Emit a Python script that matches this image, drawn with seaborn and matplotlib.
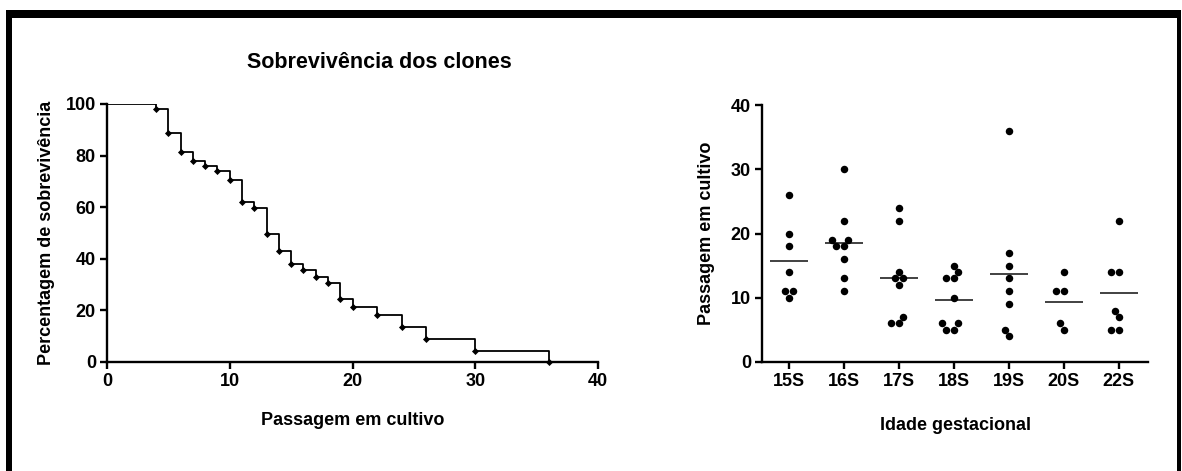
import matplotlib
matplotlib.use("Agg")
import matplotlib.pyplot as plt
import seaborn as sns
import pandas as pd

# survival curve
tempo = [0, 4, 5, 6, 7, 8, 9, 10, 11, 12, 13, 14, 15, 16, 17, 18, 19, 20, 22, 24, 26, 30, 36]
sobrev = [100, 98.1, 88.9, 81.5, 77.8, 75.9, 74.1, 70.4, 62.0, 59.8, 49.5, 42.9,
          38.0, 35.5, 33.0, 30.5, 24.4, 21.2, 18.1, 13.6, 8.9, 4.3, 0]

# passages per gestational age
idades = ["15S", "16S", "17S", "18S", "19S", "20S", "22S"]
p15 = [26, 20, 18, 14, 11, 11, 10]
p16 = [30, 22, 19, 19, 18, 18, 16, 13, 11]
p17 = [24, 22, 14, 13, 13, 12, 7, 6, 6]
p18 = [15, 14, 13, 13, 10, 6, 6, 5, 5]
p19 = [36, 17, 15, 13, 11, 9, 5, 4]
p20 = [14, 11, 11, 6, 5]
p22 = [22, 14, 14, 8, 7, 5, 5]

grupos = [p15, p16, p17, p18, p19, p20, p22]
df = pd.DataFrame({
    "idade": [i for i, g in zip(idades, grupos) for _ in g],
    "passagem": [v for g in grupos for v in g],
})

sns.set_style("ticks")
plt.rcParams["font.family"] = ["Liberation Sans", "DejaVu Sans"]
plt.rcParams["font.weight"] = "bold"
plt.rcParams["axes.labelweight"] = "bold"
plt.rcParams["text.color"] = "black"
plt.rcParams["axes.labelcolor"] = "black"
plt.rcParams["xtick.color"] = "black"
plt.rcParams["ytick.color"] = "black"

fig = plt.figure(figsize=(11.82, 4.71), dpi=100)
W, H = 1182, 471
ax1 = fig.add_axes([107 / W, 1 - 362 / H, (598 - 107) / W, (362 - 104) / H])
ax2 = fig.add_axes([762 / W, 1 - 362 / H, (1148 - 762) / W, (362 - 105) / H])

# left: Kaplan-Meier style
ax1.step(tempo, sobrev, where="post", color="black", lw=1.3)
sns.scatterplot(x=tempo[1:], y=sobrev[1:], ax=ax1, marker="D", s=13,
                color="black", edgecolor="black", linewidth=0, zorder=3, clip_on=False)
ax1.set_xlim(0, 40)
ax1.set_ylim(0, 100)
ax1.set_xticks([0, 10, 20, 30, 40])
ax1.set_yticks([0, 20, 40, 60, 80, 100])
ax1.set_xlabel("Passagem em cultivo", fontsize=13, labelpad=16)
ax1.set_ylabel("Percentagem de sobrevivência", fontsize=13, labelpad=8)
fig.text(379 / W, 1 - 62 / H, "Sobrevivência dos clones", ha="center", va="center",
         fontsize=15.5, fontweight="bold")

# right: column scatter with mean
sns.swarmplot(data=df, x="idade", y="passagem", ax=ax2, color="black", size=5.4,
              order=idades)
sns.pointplot(data=df, x="idade", y="passagem", ax=ax2, order=idades,
              estimator="mean", errorbar=None, linestyle="none", marker="_",
              markersize=27, markeredgewidth=1.3, color="#333333")
ax2.set_xlim(-0.49, 6.53)
ax2.set_ylim(0, 40)
ax2.set_yticks([0, 10, 20, 30, 40])
ax2.set_xlabel("Idade gestacional", fontsize=13, labelpad=19)
ax2.set_ylabel("Passagem em cultivo", fontsize=13, labelpad=11)

for ax in (ax1, ax2):
    sns.despine(ax=ax)
    for s in ("left", "bottom"):
        ax.spines[s].set_linewidth(1.7)
        ax.spines[s].set_color("black")
    ax.tick_params(width=1.7, length=5, labelsize=13, pad=3, color="black",
                   labelcolor="black")
    for lab in ax.get_xticklabels() + ax.get_yticklabels():
        lab.set_fontweight("bold")

# black frame around the picture
fig.add_artist(plt.Rectangle((6 / W, 1 - 18 / H), (1181 - 6) / W, 8 / H,
                             transform=fig.transFigure, color="black", lw=0))
fig.add_artist(plt.Rectangle((6 / W, 0), 6 / W, 1 - 10 / H,
                             transform=fig.transFigure, color="black", lw=0))
fig.add_artist(plt.Rectangle((1177 / W, 0), 4 / W, 1 - 10 / H,
                             transform=fig.transFigure, color="black", lw=0))

fig.savefig("out.png", dpi=100)
